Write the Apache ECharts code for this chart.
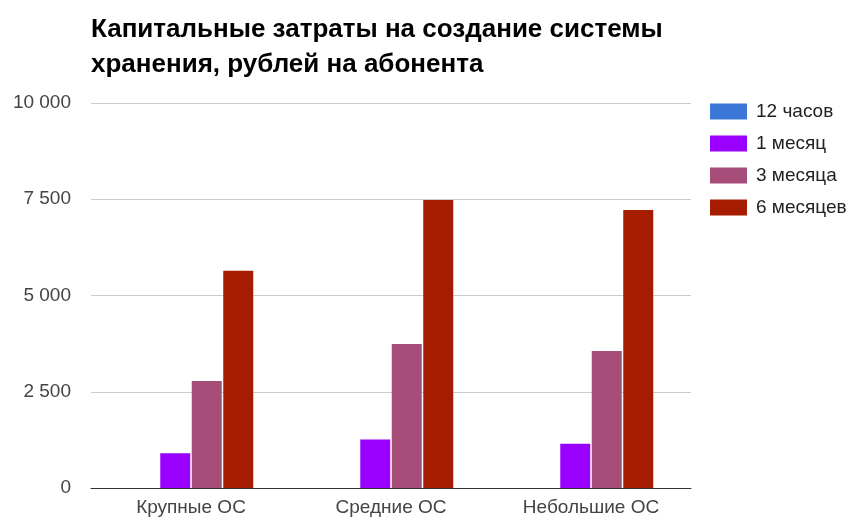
<!DOCTYPE html>
<html>
<head>
<meta charset="utf-8">
<script src="https://cdn.jsdelivr.net/npm/echarts@6/dist/echarts.min.js"></script>
<style>
  html, body { margin: 0; padding: 0; background: #fff; }
  #chart { width: 856px; height: 520px; }
</style>
</head>
<body>
<div id="chart"></div>
<script>
  const categories = ['Крупные ОС', 'Средние ОС', 'Небольшие ОС'];
  const seriesNames = ['12 часов', '1 месяц', '3 месяца', '6 месяцев'];
  const hours12 = [0, 0, 0];
  const month1 = [900, 1260, 1150];
  const months3 = [2780, 3740, 3560];
  const months6 = [5640, 7480, 7220];
  const colors = ['#3c78d8', '#9900ff', '#a64d79', '#a61c00'];
  const yTicks = [0, 2500, 5000, 7500, 10000];

  const values = [hours12, month1, months3, months6];
  const font = 'Liberation Sans, Arial, sans-serif';

  const chart = echarts.init(document.getElementById('chart'));
  chart.setOption({
    animation: false,
    color: colors,
    textStyle: { fontFamily: font },
    title: {
      text: 'Капитальные затраты на создание системы\nхранения, рублей на абонента',
      left: 86,
      top: 7,
      textStyle: {
        fontFamily: font,
        fontSize: 26,
        fontWeight: 'bold',
        color: '#000',
        lineHeight: 35
      }
    },
    legend: {
      orient: 'vertical',
      left: 705,
      top: 97,
      itemWidth: 37,
      itemHeight: 16,
      itemGap: 13,
      icon: 'rect',
      data: seriesNames,
      textStyle: { fontFamily: font, fontSize: 19, color: '#222', padding: [0, 0, 0, 4] }
    },
    grid: { left: 91, right: 165, top: 103, bottom: 32 },
    xAxis: {
      type: 'category',
      data: categories,
      axisTick: { show: false },
      axisLine: { lineStyle: { color: '#333', width: 1 } },
      axisLabel: { fontFamily: font, fontSize: 19, color: '#444', margin: 10 }
    },
    yAxis: {
      type: 'value',
      min: yTicks[0],
      max: yTicks[yTicks.length - 1],
      interval: 2500,
      axisLine: { show: false },
      axisTick: { show: false },
      splitLine: { lineStyle: { color: '#cccccc' } },
      axisLabel: {
        fontFamily: font,
        fontSize: 19,
        color: '#444',
        margin: 20,
        formatter: v => String(v).replace(/\B(?=(\d{3})+(?!\d))/g, ' ')
      }
    },
    series: seriesNames.map((name, i) => ({
      name: name,
      type: 'bar',
      data: values[i],
      barWidth: 30,
      barGap: '5%'
    }))
  });
</script>
</body>
</html>
